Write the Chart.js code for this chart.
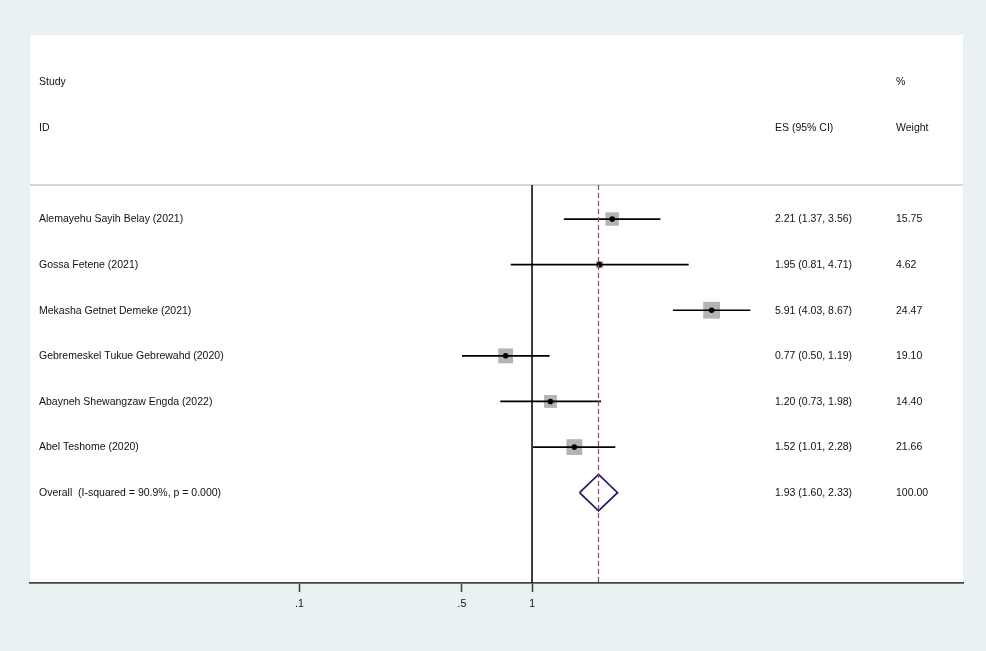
<!DOCTYPE html>
<html>
<head>
<meta charset="utf-8">
<script src="https://cdn.jsdelivr.net/npm/chart.js@4.4.1/dist/chart.umd.min.js"></script>
<style>
html, body { margin: 0; padding: 0; background: #e9f1f3; }
#wrap { width: 986px; height: 651px; }
</style>
</head>
<body>
<div id="wrap"><canvas id="forestChart" width="986" height="651"></canvas></div>
<script>
// dados do forest plot
const studies = [
    'Alemayehu Sayih Belay (2021)',
    'Gossa Fetene (2021)',
    'Mekasha Getnet Demeke (2021)',
    'Gebremeskel Tukue Gebrewahd (2020)',
    'Abayneh Shewangzaw Engda (2022)',
    'Abel Teshome (2020)'
];
const es = [2.21, 1.95, 5.91, 0.77, 1.20, 1.52];
const ciLow = [1.37, 0.81, 4.03, 0.50, 0.73, 1.01];
const ciHigh = [3.56, 4.71, 8.67, 1.19, 1.98, 2.28];
const weights = [15.75, 4.62, 24.47, 19.10, 14.40, 21.66];

const overallLabel = 'Overall  (I-squared = 90.9%, p = 0.000)';
const overallEs = 1.93;
const overallLow = 1.60;
const overallHigh = 2.33;
const overallWeight = 100.00;

const xTicks = [0.1, 0.5, 1];
const xTickLabels = ['.1', '.5', '1'];

// layout (limites dos eixos)
const X_MIN = 0.00696;
const X_MAX = 71.1;
const Y_MIN = -3.035;
const Y_MAX = 8.98;
const SEP_Y = 0.254;
const FONT = '"Liberation Sans", Arial, Helvetica, sans-serif';

const rows = studies.map((s, i) => i + 1);
const overallRow = studies.length + 1;

const fmt = v => v.toFixed(2);

const datasets = [];

// linha separadora do cabeçalho
datasets.push({
    data: [{x: X_MIN, y: SEP_Y}, {x: X_MAX, y: SEP_Y}],
    showLine: true, borderColor: '#c9c9c9', borderWidth: 1.5,
    pointRadius: 0, order: 10
});

// linha de nulidade (1)
datasets.push({
    data: [{x: 1, y: SEP_Y}, {x: 1, y: Y_MAX}],
    showLine: true, borderColor: '#111', borderWidth: 1.6,
    pointRadius: 0, order: 9
});

// linha do efeito global
datasets.push({
    data: [{x: overallEs, y: SEP_Y}, {x: overallEs, y: Y_MAX}],
    showLine: true, borderColor: '#9a4f67', borderWidth: 1.3,
    borderDash: [5, 3], pointRadius: 0, order: 1
});

// quadrados proporcionais ao peso
datasets.push({
    data: es.map((v, i) => ({x: v, y: rows[i]})),
    pointStyle: 'rect',
    pointRadius: ctx => 2.4 * Math.sqrt(weights[ctx.dataIndex] || 0),
    pointBackgroundColor: '#b4b4b4',
    pointBorderWidth: 0,
    showLine: false, order: 8
});

// intervalos de confiança
studies.forEach((s, i) => {
    datasets.push({
        data: [{x: ciLow[i], y: rows[i]}, {x: ciHigh[i], y: rows[i]}],
        showLine: true, borderColor: '#000', borderWidth: 1.7,
        pointRadius: 0, order: 5
    });
});

// pontos centrais
datasets.push({
    data: es.map((v, i) => ({x: v, y: rows[i]})),
    pointStyle: 'circle', pointRadius: 2.8,
    pointBackgroundColor: '#000', pointBorderWidth: 0,
    showLine: false, order: 2
});

// diamante do efeito global
datasets.push({
    data: [
        {x: overallLow, y: overallRow},
        {x: overallEs, y: overallRow - 0.4},
        {x: overallHigh, y: overallRow},
        {x: overallEs, y: overallRow + 0.4},
        {x: overallLow, y: overallRow}
    ],
    showLine: true, borderColor: '#1a1d66', borderWidth: 1.7,
    pointRadius: 0, fill: false, tension: 0, order: 3
});

const backgroundPlugin = {
    id: 'background',
    beforeDraw(chart) {
        const {ctx, chartArea} = chart;
        ctx.save();
        ctx.fillStyle = '#e9f1f3';
        ctx.fillRect(0, 0, chart.width, chart.height);
        ctx.fillStyle = '#ffffff';
        ctx.fillRect(chartArea.left, chartArea.top,
            chartArea.right - chartArea.left, chartArea.bottom - chartArea.top);
        ctx.restore();
    }
};

const textPlugin = {
    id: 'forestText',
    afterDatasetsDraw(chart) {
        const {ctx} = chart;
        const yScale = chart.scales.y;
        const colStudy = 39, colEs = 775, colWeight = 896;
        ctx.save();
        ctx.fillStyle = '#111';
        ctx.font = '10.5px ' + FONT;
        ctx.textBaseline = 'middle';
        ctx.textAlign = 'left';

        const yStudy = yScale.getPixelForValue(-2);
        const yId = yScale.getPixelForValue(-1);
        ctx.fillText('Study', colStudy, yStudy);
        ctx.fillText('%', colWeight, yStudy);
        ctx.fillText('ID', colStudy, yId);
        ctx.fillText('ES (95% CI)', colEs, yId);
        ctx.fillText('Weight', colWeight, yId);

        studies.forEach((s, i) => {
            const y = yScale.getPixelForValue(rows[i]) + 0.5;
            ctx.fillText(s, colStudy, y);
            ctx.fillText(fmt(es[i]) + ' (' + fmt(ciLow[i]) + ', ' + fmt(ciHigh[i]) + ')', colEs, y);
            ctx.fillText(fmt(weights[i]), colWeight, y);
        });

        const yo = yScale.getPixelForValue(overallRow) + 0.5;
        ctx.fillText(overallLabel, colStudy, yo);
        ctx.fillText(fmt(overallEs) + ' (' + fmt(overallLow) + ', ' + fmt(overallHigh) + ')', colEs, yo);
        ctx.fillText(fmt(overallWeight), colWeight, yo);
        ctx.restore();
    }
};

new Chart(document.getElementById('forestChart'), {
    type: 'scatter',
    data: {datasets: datasets},
    options: {
        responsive: false,
        animation: false,
        devicePixelRatio: 1,
        layout: {padding: {left: 30, right: 23, top: 35, bottom: 0}},
        plugins: {
            legend: {display: false},
            tooltip: {enabled: false}
        },
        scales: {
            x: {
                type: 'logarithmic',
                min: X_MIN,
                max: X_MAX,
                afterBuildTicks: scale => {
                    scale.ticks = xTicks.map(v => ({value: v}));
                },
                afterFit: scale => { scale.height = 68; },
                ticks: {
                    autoSkip: false,
                    maxRotation: 0,
                    padding: 6,
                    color: '#111',
                    font: {family: FONT, size: 10.5},
                    callback: (value, index) => xTickLabels[index]
                },
                grid: {
                    display: true,
                    drawOnChartArea: false,
                    drawTicks: true,
                    tickLength: 9,
                    tickWidth: 1.6,
                    tickColor: '#444'
                },
                border: {display: true, color: '#444', width: 1.8}
            },
            y: {
                type: 'linear',
                reverse: true,
                min: Y_MIN,
                max: Y_MAX,
                display: false
            }
        }
    },
    plugins: [backgroundPlugin, textPlugin]
});
</script>
</body>
</html>
